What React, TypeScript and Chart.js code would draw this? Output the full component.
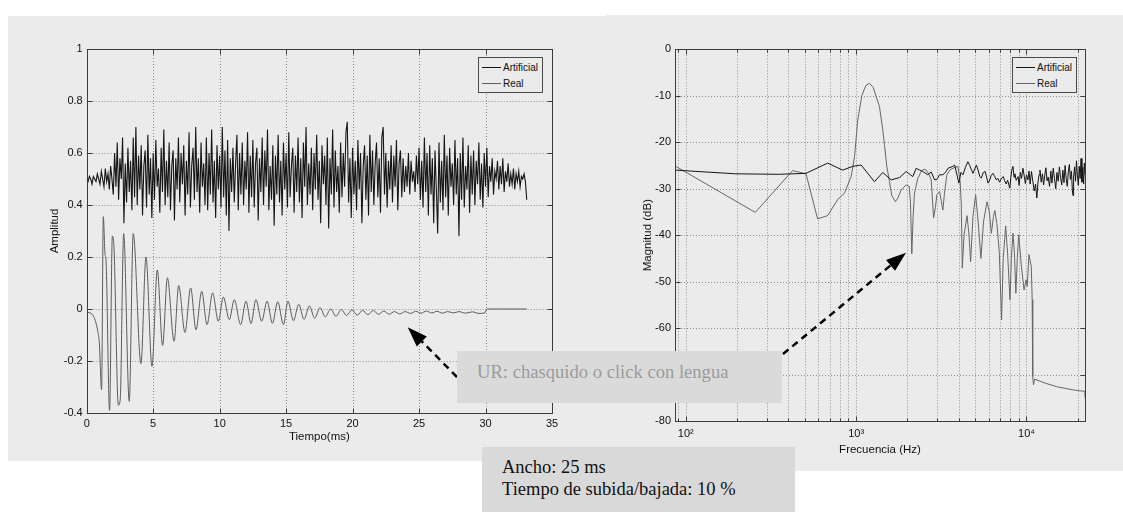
import React, { useEffect, useRef } from 'react';
import { Chart, registerables } from 'chart.js';
Chart.register(...registerables);

// ---------------- DATA ----------------
const seriesNames = ['Artificial', 'Real'];

// Left panel: time signal (ms vs amplitude)
const artificialStepMs = 0.1;
const artificialAmp = [
  0.50, 0.49, 0.51, 0.50, 0.48, 0.51, 0.50, 0.49, 0.52, 0.50,
  0.48, 0.53, 0.50, 0.47, 0.54, 0.49, 0.52, 0.46, 0.55, 0.50,
  0.44, 0.60, 0.47, 0.64, 0.42, 0.58, 0.50, 0.66, 0.33, 0.56,
  0.41, 0.62, 0.45, 0.57, 0.38, 0.66, 0.43, 0.70, 0.40, 0.59,
  0.46, 0.63, 0.36, 0.55, 0.61, 0.39, 0.67, 0.44, 0.58, 0.35,
  0.60, 0.42, 0.65, 0.47, 0.54, 0.37, 0.62, 0.45, 0.69, 0.40,
  0.57, 0.43, 0.64, 0.38, 0.55, 0.61, 0.34, 0.58, 0.46, 0.66,
  0.41, 0.60, 0.48, 0.63, 0.36, 0.57, 0.44, 0.68, 0.39, 0.55,
  0.62, 0.42, 0.70, 0.45, 0.58, 0.37, 0.64, 0.47, 0.56, 0.40,
  0.66, 0.38, 0.60, 0.44, 0.69, 0.41, 0.57, 0.35, 0.63, 0.46,
  0.59, 0.39, 0.70, 0.43, 0.61, 0.36, 0.65, 0.30, 0.58, 0.45,
  0.62, 0.41, 0.56, 0.67, 0.38, 0.60, 0.44, 0.64, 0.40, 0.57,
  0.46, 0.68, 0.37, 0.59, 0.43, 0.65, 0.39, 0.56, 0.62, 0.34,
  0.58, 0.45, 0.66, 0.40, 0.61, 0.47, 0.69, 0.38, 0.55, 0.42,
  0.63, 0.32, 0.59, 0.44, 0.67, 0.41, 0.57, 0.36, 0.64, 0.46,
  0.60, 0.39, 0.68, 0.43, 0.55, 0.62, 0.37, 0.59, 0.45, 0.66,
  0.41, 0.58, 0.35, 0.64, 0.47, 0.70, 0.40, 0.56, 0.44, 0.62,
  0.38, 0.60, 0.46, 0.67, 0.42, 0.57, 0.33, 0.63, 0.48, 0.59,
  0.40, 0.66, 0.31, 0.58, 0.44, 0.69, 0.39, 0.61, 0.45, 0.55,
  0.37, 0.64, 0.43, 0.60, 0.47, 0.68, 0.72, 0.41, 0.58, 0.35,
  0.62, 0.44, 0.57, 0.38, 0.65, 0.46, 0.60, 0.33, 0.55, 0.63,
  0.42, 0.59, 0.36, 0.67, 0.45, 0.61, 0.40, 0.56, 0.64, 0.43,
  0.58, 0.37, 0.66, 0.70, 0.44, 0.60, 0.39, 0.57, 0.46, 0.63,
  0.41, 0.59, 0.47, 0.65, 0.38, 0.56, 0.61, 0.43, 0.58, 0.45,
  0.55, 0.47, 0.60, 0.44, 0.57, 0.49, 0.53, 0.45, 0.59, 0.48,
  0.62, 0.42, 0.57, 0.39, 0.66, 0.45, 0.60, 0.36, 0.63, 0.44,
  0.58, 0.33, 0.61, 0.46, 0.29, 0.64, 0.41, 0.57, 0.38, 0.67,
  0.43, 0.59, 0.36, 0.62, 0.47, 0.56, 0.40, 0.65, 0.44, 0.58,
  0.28, 0.60, 0.42, 0.66, 0.39, 0.55, 0.46, 0.63, 0.37, 0.59,
  0.44, 0.61, 0.40, 0.57, 0.48, 0.64, 0.42, 0.56, 0.39, 0.60,
  0.47, 0.62, 0.43, 0.55, 0.49, 0.58, 0.44, 0.53, 0.50, 0.57,
  0.46, 0.55, 0.48, 0.58, 0.45, 0.53, 0.49, 0.56, 0.47, 0.52,
  0.48, 0.54, 0.46, 0.52, 0.49, 0.53, 0.47, 0.51, 0.50, 0.52,
  0.49, 0.42,
];

const realTimeMs = [
  0, 0.4, 0.65, 0.85, 0.95, 1.12, 1.25, 1.38, 1.45, 1.72,
  1.93, 2.05, 2.38, 2.52, 2.78, 3.2, 3.5, 4.08, 4.46, 4.91,
  5.31, 5.71, 6.07, 6.57, 6.92, 7.39, 7.82, 8.22, 8.65, 9.05,
  9.47, 9.9, 10.28, 10.73, 11.1, 11.58, 11.98, 12.36, 12.73, 13.16,
  13.57, 13.97, 14.37, 14.8, 15.14, 15.55, 15.95, 16.35, 16.75, 17.15,
  17.55, 17.95, 18.35, 18.75, 19.15, 19.55, 19.95, 20.35, 20.75, 21.15,
  21.55, 21.95, 22.35, 22.75, 23.15, 23.55, 23.95, 24.35, 24.75, 25.15,
  25.55, 25.95, 26.35, 26.75, 27.15, 27.6, 28.0, 28.5, 29.0, 29.5,
  29.95, 30.1, 33.1,
];
const realAmp = [
  -0.012, -0.02, -0.045, -0.09, -0.13, -0.31, 0.355, 0.21, 0.19, -0.39,
  0.28, 0.24, -0.37, -0.35, 0.29, -0.355, 0.29, -0.21, 0.2, -0.22,
  0.15, -0.14, 0.12, -0.124, 0.09, -0.09, 0.081, -0.08, 0.068, -0.06,
  0.062, -0.047, 0.046, -0.041, 0.036, -0.06, 0.03, -0.056, 0.036, -0.047,
  0.03, -0.055, 0.028, -0.06, 0.03, -0.045, 0.018, -0.04, 0.012, -0.035,
  0.005, -0.03, 0.0, -0.028, -0.002, -0.025, -0.003, -0.024, -0.005, -0.022,
  -0.006, -0.02, -0.008, -0.02, -0.01, -0.019, -0.01, -0.017, -0.009, -0.016,
  -0.008, -0.015, -0.009, -0.016, -0.01, -0.015, -0.01, -0.016, -0.011, -0.017,
  -0.015, 0, 0,
];

// Right panel: spectrum (Hz vs dB)
const artificialFreqHz = [
  86.5, 197, 354, 508, 681, 834, 955, 1070, 1281, 1434,
  1606, 1800, 1966, 2150, 2253, 2360, 2464, 2630, 2760, 2889,
  2980, 3090, 3230, 3380, 3460, 3700, 3790, 4010, 4120, 4240,
  4380, 4530, 4640, 4850, 5080, 5200, 5320, 5430, 5580, 5720,
  5830, 5950, 6090, 6200, 6350, 6520, 6650, 6800, 6950, 7100,
  7300, 7450, 7600, 7750, 7980, 8100, 8200, 8330, 8450, 8550,
  8700, 8930, 9050, 9200, 9350, 9530, 9700, 9850, 10000, 10200,
  10350, 10500, 10700, 10900, 11100, 11300, 11500, 11700, 11850, 12000,
  12200, 12400, 12600, 12800, 13000, 13200, 13400, 13650, 13900, 14100,
  14350, 14600, 14850, 15100, 15350, 15600, 15850, 16100, 16350, 16600,
  16850, 17100, 17350, 17600, 17850, 18100, 18350, 18600, 18750, 18900,
  19150, 19400, 19650, 19900, 20150, 20400, 20650, 20900, 21150, 21400,
  21650, 21850, 22050,
];
const artificialDb = [
  -26, -26.8, -26.9, -26.7, -24.5, -26, -25.2, -24.9, -28.5, -26.5,
  -28.1, -27.6, -26.3, -27.4, -25.6, -26, -26.3, -27, -26.4, -28.1,
  -28, -27, -27, -26.3, -25.6, -25.2, -24.9, -28.8, -26.5, -27,
  -25.4, -24.2, -25, -26.7, -24.9, -26, -27.4, -27.7, -26.5, -26.3,
  -27.5, -28.8, -28.1, -27.2, -26.7, -27.4, -28.1, -27.8, -28.6, -27.9,
  -27.4, -28.3, -29, -28.2, -29.9, -27.5, -26, -25.2, -27.5, -26.8,
  -28.2, -27.4, -29.3, -26.5, -27.8, -25.6, -27.3, -28.9, -27, -28.1,
  -26.2, -29, -26.3, -28.5, -30.5, -29, -32, -28.4, -27, -26,
  -28.6, -26.8, -29.2, -27.1, -25.5, -28.3, -27.5, -29.5, -26.2, -28.8,
  -25.6, -27.9, -30, -26.5, -28.4, -25.3, -27.6, -29.2, -26, -28.7,
  -25, -27.8, -29.5, -26.4, -24.8, -28, -26.2, -30.5, -31.5, -27.5,
  -25.3, -28.4, -24, -27.2, -29.3, -25.2, -27.8, -23.5, -28.6, -25.4,
  -29, -24.5, -27,
];

const realFreqHz = [
  86.5, 256, 424, 508, 594, 681, 780, 853, 935, 980,
  1022, 1080, 1140, 1198, 1260, 1320, 1371, 1430, 1467, 1514,
  1570, 1620, 1700, 1760, 1835, 1966, 2050, 2085, 2123, 2160,
  2200, 2300, 2410, 2500, 2580, 2680, 2760, 2850, 2920, 2980,
  3090, 3230, 3300, 3410, 3550, 3700, 3960, 4080, 4140, 4200,
  4300, 4480, 4600, 4700, 4850, 5030, 5200, 5400, 5600, 5870,
  6050, 6220, 6400, 6520, 6700, 6920, 7140, 7300, 7550, 7750,
  8000, 8150, 8330, 8500, 8660, 8830, 9000, 9340, 9680, 9950,
  10100, 10340, 10670, 10800, 10880, 11000, 11150, 13000, 15000, 17000,
  18800, 20500, 22000, 22050,
];
const realDb = [
  -25.1, -35.1, -26.1, -26.8, -36.5, -35.8, -32.3, -31, -27.4, -23,
  -15.2, -10, -7.8, -7.3, -8.2, -10.5, -12.3, -17, -20.5, -25.2,
  -28.5, -31.5, -32.8, -32, -30.3, -29.2, -29.5, -33, -44, -36,
  -31, -27.8, -26.3, -25.8, -26, -27, -28.1, -36.3, -34, -31.3,
  -30.6, -34.6, -31, -27, -26, -25.6, -25.2, -28.5, -33.1, -47.1,
  -40, -35.8, -40, -45.7, -36, -31.3, -37, -45, -37, -32.8,
  -35, -39.6, -36, -34.7, -37.5, -43.5, -58.2, -45, -38, -44,
  -53.9, -45, -39.6, -44, -52.5, -45, -39.9, -46.8, -51.8, -49.6,
  -51, -44.2, -46.8, -53.9, -70.4, -72.2, -71, -71.9, -72.6, -73,
  -73.3, -73.5, -73.6, -75,
];

const freqGridHz = [
  90, 100, 200, 300, 400, 500, 600, 700, 800, 900,
  1000, 2000, 3000, 4000, 5000, 6000, 7000, 8000, 9000,
  10000, 20000,
];
const freqTickLabels: Record<number, string> = { 100: '10²', 1000: '10³', 10000: '10⁴' };

// ---------------- STYLE ----------------
const PANEL = '#ebebeb';
const C_ART = '#151515';
const C_REAL = '#5c5c5c';
const SANS = "'Liberation Sans', Arial, sans-serif";
const SERIF = "'Liberation Serif', 'Times New Roman', serif";

const fmtTick = (v: any) => {
  const r = Math.round(Number(v) * 10) / 10;
  return Math.abs(r) < 1e-9 ? '0' : String(r);
};

const matlabAxes = {
  id: 'matlabAxes',
  beforeDatasetsDraw(chart: any) {
    const { ctx, chartArea: a } = chart;
    const xs = chart.scales.x, ys = chart.scales.y;
    ctx.save();
    ctx.strokeStyle = '#8e8e8e';
    ctx.lineWidth = 1;
    ctx.setLineDash([1, 2]);
    ctx.beginPath();
    xs.ticks.forEach((t: any) => {
      const p = Math.round(xs.getPixelForValue(t.value)) + 0.5;
      ctx.moveTo(p, a.top); ctx.lineTo(p, a.bottom);
    });
    ys.ticks.forEach((t: any) => {
      const p = Math.round(ys.getPixelForValue(t.value)) + 0.5;
      ctx.moveTo(a.left, p); ctx.lineTo(a.right, p);
    });
    ctx.stroke();
    ctx.restore();
  },
  afterDatasetsDraw(chart: any) {
    const { ctx, chartArea: a } = chart;
    const xs = chart.scales.x, ys = chart.scales.y;
    const L = Math.round(a.left) + 0.5, R = Math.round(a.right) + 0.5;
    const T = Math.round(a.top) + 0.5, B = Math.round(a.bottom) + 0.5;
    ctx.save();
    ctx.strokeStyle = '#3c3c3c';
    ctx.lineWidth = 1;
    ctx.setLineDash([]);
    ctx.strokeRect(L, T, R - L, B - T);
    ctx.beginPath();
    const isLog = xs.type === 'logarithmic';
    xs.ticks.forEach((t: any) => {
      const p = Math.round(xs.getPixelForValue(t.value)) + 0.5;
      const major = !isLog || Math.abs(Math.log10(t.value) - Math.round(Math.log10(t.value))) < 1e-6;
      const len = major ? 5 : 3;
      ctx.moveTo(p, B); ctx.lineTo(p, B - len);
      ctx.moveTo(p, T); ctx.lineTo(p, T + len);
    });
    ys.ticks.forEach((t: any) => {
      const p = Math.round(ys.getPixelForValue(t.value)) + 0.5;
      ctx.moveTo(L, p); ctx.lineTo(L + 5, p);
      ctx.moveTo(R, p); ctx.lineTo(R - 5, p);
    });
    ctx.stroke();
    ctx.restore();
  },
};

const tickFont = { family: SANS, size: 11 };
const titleFont = { family: SANS, size: 11.5 };

function leftConfig(): any {
  return {
    type: 'line',
    data: {
      datasets: [
        {
          label: seriesNames[0],
          data: artificialAmp.map((v, i) => ({ x: i * artificialStepMs, y: v })),
          borderColor: C_ART,
          borderWidth: 1.1,
          pointRadius: 0,
          tension: 0,
        },
        {
          label: seriesNames[1],
          data: realTimeMs.map((t, i) => ({ x: t, y: realAmp[i] })),
          borderColor: C_REAL,
          borderWidth: 1,
          pointRadius: 0,
          cubicInterpolationMode: 'monotone',
        },
      ],
    },
    options: {
      animation: false,
      responsive: false,
      layout: { padding: { left: 36, top: 33, right: 54, bottom: 0 } },
      plugins: { legend: { display: false }, tooltip: { enabled: false } },
      scales: {
        x: {
          type: 'linear', min: 0, max: 35,
          ticks: { stepSize: 5, padding: 4, font: tickFont, color: '#111', maxRotation: 0 },
          grid: { display: false, drawTicks: false },
          border: { display: false },
          title: { display: true, text: 'Tiempo(ms)', font: titleFont, color: '#111', padding: { top: 0, bottom: 17 } },
          afterFit: (s: any) => { s.height = 48; },
        },
        y: {
          type: 'linear', min: -0.4, max: 1,
          ticks: { stepSize: 0.2, padding: 4, font: tickFont, color: '#111', callback: fmtTick },
          grid: { display: false, drawTicks: false },
          border: { display: false },
          title: { display: true, text: 'Amplitud', font: titleFont, color: '#111', padding: { top: 4, bottom: 0 } },
          afterFit: (s: any) => { s.width = 42.7; },
        },
      },
    },
    plugins: [matlabAxes],
  };
}

function rightConfig(): any {
  return {
    type: 'line',
    data: {
      datasets: [
        {
          label: seriesNames[0],
          data: artificialFreqHz.map((f, i) => ({ x: f, y: artificialDb[i] })),
          borderColor: C_ART,
          borderWidth: 1,
          pointRadius: 0,
          tension: 0,
        },
        {
          label: seriesNames[1],
          data: realFreqHz.map((f, i) => ({ x: f, y: realDb[i] })),
          borderColor: '#666',
          borderWidth: 1,
          pointRadius: 0,
          tension: 0,
        },
      ],
    },
    options: {
      animation: false,
      responsive: false,
      layout: { padding: { left: 35, top: 34.3, right: 38, bottom: 0 } },
      plugins: { legend: { display: false }, tooltip: { enabled: false } },
      scales: {
        x: {
          type: 'logarithmic', min: 86.5, max: 22050,
          afterBuildTicks: (s: any) => { s.ticks = freqGridHz.map((v) => ({ value: v })); },
          ticks: {
            autoSkip: false, maxRotation: 0, padding: 6, font: tickFont, color: '#111',
            callback: (v: any) => freqTickLabels[Math.round(Number(v))] || '',
          },
          grid: { display: false, drawTicks: false },
          border: { display: false },
          title: { display: true, text: 'Frecuencia (Hz)', font: titleFont, color: '#111', padding: { top: 0, bottom: 14 } },
          afterFit: (s: any) => { s.height = 50; },
        },
        y: {
          type: 'linear', min: -80, max: 0,
          ticks: { stepSize: 10, padding: 4, font: tickFont, color: '#111' },
          grid: { display: false, drawTicks: false },
          border: { display: false },
          title: { display: true, text: 'Magnitud (dB)', font: titleFont, color: '#111', padding: { top: 0, bottom: 0 } },
          afterFit: (s: any) => { s.width = 34; },
        },
      },
    },
    plugins: [matlabAxes],
  };
}

function ChartCanvas({ width, height, config }: { width: number; height: number; config: () => any }) {
  const ref = useRef<HTMLCanvasElement | null>(null);
  useEffect(() => {
    if (!ref.current) return;
    const chart = new Chart(ref.current, config());
    return () => chart.destroy();
  }, []);
  return <canvas ref={ref} width={width} height={height} style={{ display: 'block', width, height }} />;
}

function LegendBox({ left, top, colors }: { left: number; top: number; colors: string[] }) {
  return (
    <div style={{
      position: 'absolute', left, top, width: 65, height: 36, boxSizing: 'border-box',
      border: '1px solid #4a4a4a', background: PANEL, fontFamily: SANS, fontSize: 10, color: '#111',
    }}>
      {seriesNames.map((name, i) => (
        <div key={name} style={{ position: 'absolute', left: 3, top: 0.5 + i * 16.6, height: 17, display: 'flex', alignItems: 'center', whiteSpace: 'nowrap' }}>
          <span style={{ display: 'inline-block', width: 19, borderTop: `1px solid ${colors[i]}`, marginRight: 2 }} />
          <span>{name}</span>
        </div>
      ))}
    </div>
  );
}

export default function App() {
  return (
    <div style={{ position: 'fixed', left: 0, top: 0, width: 1123, height: 512, background: '#fff', overflow: 'hidden' }}>
      <div style={{ position: 'absolute', left: 8, top: 16, width: 598, height: 445, background: PANEL }}>
        <ChartCanvas width={598} height={445} config={leftConfig} />
      </div>
      <div style={{ position: 'absolute', left: 606, top: 15, width: 517, height: 456, background: PANEL }}>
        <ChartCanvas width={517} height={456} config={rightConfig} />
      </div>
      <LegendBox left={478} top={57} colors={[C_ART, C_REAL]} />
      <LegendBox left={1012} top={57} colors={[C_ART, '#666']} />

      <svg width={1123} height={512} style={{ position: 'absolute', left: 0, top: 0 }}>
        <line x1={457} y1={377} x2={421.8} y2={341.5} stroke="#000" strokeWidth={2.5} strokeDasharray="7 5" />
        <polygon points="407.7,327.3 426.8,336.6 416.8,346.4" fill="#000" />
        <line x1={783} y1={354} x2={890.6} y2={265.4} stroke="#000" strokeWidth={2.5} strokeDasharray="7 5" />
        <polygon points="906,252.7 895.1,270.8 886.1,260" fill="#000" />
      </svg>

      <div style={{ position: 'absolute', left: 457, top: 351, width: 325, height: 52, background: '#dadada' }}>
        <span style={{ position: 'absolute', left: 20, top: 10, fontFamily: SERIF, fontSize: 18.6, lineHeight: '22px', color: '#9a9a9a', whiteSpace: 'nowrap' }}>
          UR: chasquido o click con lengua
        </span>
      </div>
      <div style={{ position: 'absolute', left: 482, top: 447, width: 313, height: 65, background: '#d9d9d9' }}>
        <div style={{ position: 'absolute', left: 20, top: 10, fontFamily: SERIF, fontSize: 18.5, lineHeight: '21.7px', color: '#111', whiteSpace: 'nowrap' }}>
          <div>Ancho: 25 ms</div>
          <div>Tiempo de subida/bajada: 10 %</div>
        </div>
      </div>
    </div>
  );
}
